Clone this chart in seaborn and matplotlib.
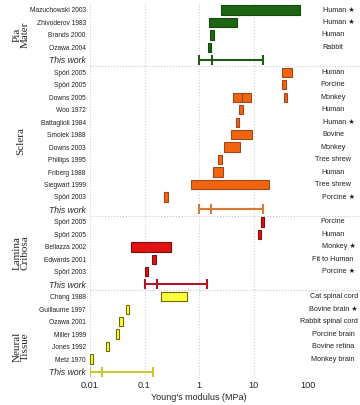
import numpy as np
import matplotlib.pyplot as plt
import matplotlib.transforms as mtransforms
from matplotlib.ticker import FixedLocator, FuncFormatter, NullLocator
import seaborn as sns

# Rows, top to bottom
studies = ["Mazuchowski 2003", "Zhivoderov 1983", "Brands 2000", "Ozawa 2004", "This work",
           "Spörl 2005", "Spörl 2005", "Downs 2005", "Woo 1972", "Battaglioli 1984",
           "Smolek 1988", "Downs 2003", "Phillips 1995", "Friberg 1988", "Siegwart 1999",
           "Spörl 2003", "This work",
           "Spörl 2005", "Spörl 2005", "Bellazza 2002", "Edwards 2001", "Spörl 2003", "This work",
           "Chang 1988", "Guillaume 1997", "Ozawa 2001", "Miller 1999", "Jones 1992",
           "Metz 1970", "This work"]
species = ["Human", "Human", "Human", "Rabbit", "",
           "Human", "Porcine", "Monkey", "Human", "Human", "Bovine", "Monkey",
           "Tree shrew", "Human", "Tree shrew", "Porcine", "",
           "Porcine", "Human", "Monkey", "Fit to Human", "Porcine", "",
           "Cat spinal cord", "Bovine brain", "Rabbit spinal cord", "Porcine brain",
           "Bovine retina", "Monkey brain", ""]
starred = [1, 1, 0, 0, 0,
           0, 0, 0, 0, 1, 0, 0, 0, 0, 0, 1, 0,
           0, 0, 1, 0, 1, 0,
           0, 1, 0, 0, 0, 0, 0]

group_names = ["Pia\nMater", "Sclera", "Lamina\nCribosa", "Neural\nTissue"]
group_sizes = [5, 12, 6, 7]

# literature ranges (row index, low, high) in MPa
range_rows = [0, 1, 2, 3,
              5, 6, 7, 7, 7, 8, 9, 10, 11, 12, 13, 14, 15,
              17, 18, 19, 20, 21,
              23, 24, 25, 26, 27, 28]
range_low = [2.5, 1.5, 1.62, 1.45,
             33, 34, 4.2, 6.1, 36.5, 5.4, 4.8, 3.8, 2.9, 2.25, 1.8, 0.7, 0.23,
             13.5, 12.2, 0.056, 0.14, 0.10,
             0.2, 0.046, 0.034, 0.030, 0.0197, 0.0100]
range_high = [70, 5.0, 1.88, 1.65,
              50, 39, 6.1, 9.0, 41, 6.3, 5.5, 9.3, 5.7, 2.6, 2.8, 19, 0.27,
              15.5, 14.0, 0.30, 0.16, 0.115,
              0.6, 0.053, 0.040, 0.034, 0.0226, 0.0115]

# this work: min, mean, max
work_rows = [4, 16, 22, 29]
work_min = [1.0, 1.0, 0.1, 0.01]
work_mid = [1.7, 1.68, 0.17, 0.0166]
work_max = [15, 14.7, 1.4, 0.145]

decades = [0.01, 0.1, 1, 10, 100]

group_fill = ["#1f6516", "#f3640f", "#e01212", "#ffff3a"]
group_edge = ["#124a0c", "#9c4a1c", "#7c0e12", "#6e6a00"]
group_line = ["#1f5a16", "#dc7a34", "#b2142a", "#c8c83a"]

sns.set_style("white")
plt.rcParams["font.family"] = ["Liberation Sans", "DejaVu Sans"]

row_group = np.repeat(np.arange(len(group_sizes)), group_sizes)

fig = plt.figure(figsize=(3.6, 4.05), dpi=100)
ax = fig.add_axes([90 / 360, 1 - 378 / 405, 218 / 360, 375 / 405])
ax.set_xscale("log")
ax.set_xlim(decades[0], decades[-1])
ax.set_ylim(29.52, -0.56)

# literature bars
for r, lo, hi in zip(range_rows, range_low, range_high):
    g = row_group[r]
    ax.barh(r, hi - lo, left=lo, height=0.75, color=group_fill[g],
            edgecolor=group_edge[g], linewidth=0.8, zorder=3)

# this work: range with mean tick
for r, lo, mid, hi in zip(work_rows, work_min, work_mid, work_max):
    g = row_group[r]
    ax.errorbar(mid, r, xerr=[[mid - lo], [hi - mid]], fmt="|", ms=7, mew=1.5,
                capsize=3.5, capthick=1.5, elinewidth=1.5, color=group_line[g], zorder=3)

# separators between tissue groups, running into the label column
bounds = np.cumsum(group_sizes)[:-1] - 0.5
for b in bounds:
    ax.axhline(b, xmin=0, xmax=270 / 218, color="#c8c8c8", lw=0.8, ls=":", clip_on=False)

# axes styling
ax.xaxis.set_major_locator(FixedLocator(decades))
ax.xaxis.set_minor_locator(NullLocator())
ax.xaxis.set_major_formatter(FuncFormatter(lambda v, pos: f"{v:g}"))
ax.grid(axis="x", color="#d0d0d0", ls=":", lw=0.8)
ax.grid(axis="y", visible=False)
for s in ax.spines.values():
    s.set_visible(False)
ax.tick_params(axis="x", labelsize=6.6, length=0, pad=2)
ax.tick_params(axis="y", length=0, pad=3)
ax.set_yticks(np.arange(len(studies)))
ax.set_yticklabels(studies)
for lbl, name in zip(ax.get_yticklabels(), studies):
    if name == "This work":
        lbl.set_fontsize(6.2)
        lbl.set_fontstyle("italic")
    else:
        lbl.set_fontsize(4.8)
        lbl.set_color("#222222")
ax.set_xlabel("Young's modulus (MPa)", fontsize=6.5, labelpad=2)

# right-hand species labels
trans = mtransforms.blended_transform_factory(fig.transFigure, ax.transData)
for r, (sp, st) in enumerate(zip(species, starred)):
    if not sp:
        continue
    text = sp + " \u2605" if st else sp
    if len(text) > 13:
        # long names would run off the right edge: pin them to it
        x, ha = 358 / 360, "right"
    else:
        x, ha = (339 / 360 if st else 333 / 360), "center"
    ax.text(x, r, text, transform=trans, ha=ha, va="center", fontsize=5.2,
            color="#222222", family=["Liberation Sans", "DejaVu Sans"], clip_on=False)

# tissue group names
label_rows = [2, 10.5, 19.5, 27]
for name, yr in zip(group_names, label_rows):
    ax.text(21 / 360, yr, name, transform=trans, rotation=90, ha="center", va="center",
            fontsize=8, family="Liberation Serif", linespacing=0.85, clip_on=False)

fig.savefig("out.png", dpi=100)
